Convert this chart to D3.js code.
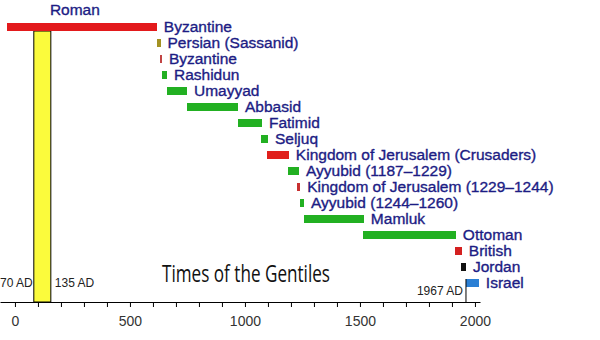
<!DOCTYPE html>
<html><head><meta charset="utf-8">
<script src="https://cdn.jsdelivr.net/npm/d3@7"></script>
<style>html,body{margin:0;padding:0;background:#fff;}svg{display:block;}</style>
</head><body>
<div id="chart"></div>
<script>
// ---- data (years) ----
const periods = ["Roman","Byzantine","Persian (Sassanid)","Byzantine","Rashidun","Umayyad","Abbasid","Fatimid","Seljuq",
  "Kingdom of Jerusalem (Crusaders)","Ayyubid (1187\u20131229)","Kingdom of Jerusalem (1229\u20131244)","Ayyubid (1244\u20131260)",
  "Mamluk","Ottoman","British","Jordan","Israel"];
const startYears = [-35, 324, 617, 630, 639, 661, 748, 970, 1070, 1097, 1187, 1228, 1240, 1258, 1514, 1913, 1940, 1961];
const endYears   = [324, 617, 633, 639, 661, 748, 970, 1074, 1100, 1191, 1235, 1240, 1257, 1517, 1917, 1943, 1961, 2017];
const rowIndex   = [0, 0, 1, 2, 3, 4, 5, 6, 7, 8, 9, 10, 11, 12, 13, 14, 15, 16];
const labelPlace = ["above","right","right","right","right","right","right","right","right","right","right","right","right","right","right","right","right","right"];
const barColors  = ["#e31a1c","#e31a1c","#a39223","#c24444","#22b022","#22b022","#22b022","#22b022","#22b022","#e0201c",
  "#22b022","#c83030","#22b022","#22b022","#22b022","#d42020","#111111","#2a7fd4"];
const gentilesSpan = [82, 156];          // yellow box as drawn
const gentilesLabels = ["70 AD", "135 AD"];
const israelLineYear = 1961;
const israelLineLabel = "1967 AD";
const tickValues = d3.range(0, 2001, 100);
const tickLabels = [0, 500, 1000, 1500, 2000];
const title = "Times of the Gentiles";

// ---- layout ----
const W = 600, H = 340;
const axisY = 302;
const svg = d3.select("#chart").append("svg").attr("width", W).attr("height", H);

const x = d3.scaleLinear().domain([-65, 2022]).range([0, 480]);
const nRows = d3.max(rowIndex) + 1;
const y = d3.scaleLinear().domain([0, nRows - 1]).range([27, 283]);
const barH = 8;

// yellow box
svg.append("rect")
  .attr("x", x(gentilesSpan[0])).attr("y", y(0) + barH / 2)
  .attr("width", x(gentilesSpan[1]) - x(gentilesSpan[0]))
  .attr("height", axisY - (y(0) + barH / 2))
  .attr("fill", "#fbfb3c").attr("stroke", "#000").attr("stroke-width", 1);

svg.append("text").attr("x", x(gentilesSpan[0]) - 1).attr("y", 287)
  .attr("text-anchor", "end").attr("font-family", "Liberation Sans, Arial, sans-serif")
  .attr("font-size", 12).attr("fill", "#222").text(gentilesLabels[0]);
svg.append("text").attr("x", x(gentilesSpan[1]) + 4).attr("y", 287)
  .attr("font-family", "Liberation Sans, Arial, sans-serif")
  .attr("font-size", 12).attr("fill", "#222").text(gentilesLabels[1]);

// bars
const data = periods.map((p, i) => ({name: p, s: startYears[i], e: endYears[i], row: rowIndex[i], place: labelPlace[i], color: barColors[i]}));
svg.append("g").attr("shape-rendering", "crispEdges").selectAll("rect").data(data).join("rect")
  .attr("x", d => x(d.s)).attr("y", d => y(d.row) - barH / 2)
  .attr("width", d => Math.max(1.5, x(d.e) - x(d.s))).attr("height", barH)
  .attr("fill", d => d.color);

// labels
svg.append("g").selectAll("text").data(data).join("text")
  .attr("x", d => d.place === "above" ? x(d.s) + 43 : x(d.e) + 7)
  .attr("y", d => d.place === "above" ? y(d.row) - 12 : y(d.row) + 5)
  .attr("font-family", "Liberation Sans, Arial, sans-serif")
  .attr("font-size", 15.5).attr("fill", "#1c1c84")
  .attr("stroke", "#1c1c84").attr("stroke-width", 0.35)
  .text(d => d.name);

// 1967 line
svg.append("line").attr("x1", x(israelLineYear)).attr("x2", x(israelLineYear))
  .attr("y1", y(16) - barH / 2).attr("y2", axisY).attr("stroke", "#000").attr("stroke-width", 1);
svg.append("text").attr("x", x(israelLineYear) - 3).attr("y", 295)
  .attr("text-anchor", "end").attr("font-family", "Liberation Sans, Arial, sans-serif")
  .attr("font-size", 12).attr("fill", "#222").text(israelLineLabel);

// title
svg.append("text").attr("x", 162).attr("y", 282)
  .attr("font-family", "Open Sans, Noto Sans, sans-serif")
  .attr("font-size", 23).attr("fill", "#111")
  .attr("textLength", 168).attr("lengthAdjust", "spacingAndGlyphs")
  .text(title);

// axis
const axis = d3.axisBottom(x).tickValues(tickValues).tickSize(5).tickSizeOuter(0)
  .tickFormat(d => tickLabels.includes(d) ? d : "");
const gA = svg.append("g").attr("transform", `translate(0,${axisY})`).call(axis);
gA.select(".domain").attr("stroke", "#000");
gA.selectAll(".tick line").attr("stroke", "#000");
gA.selectAll(".tick text").attr("font-family", "Liberation Sans, Arial, sans-serif")
  .attr("font-size", 14).attr("fill", "#333").attr("dy", "1.15em");
</script>
</body></html>
